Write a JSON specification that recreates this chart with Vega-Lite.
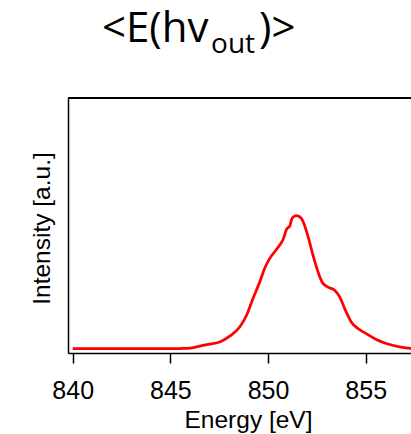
{
  "$schema": "https://vega.github.io/schema/vega-lite/v6.json",
  "autosize": {"type": "none"},
  "padding": {"left": 68, "top": 98, "right": 0, "bottom": 81},
  "width": 343,
  "height": 255,
  "background": "white",
  "config": {"view": {"stroke": null}},
  "title": {
    "text": "<E(hv\u00a0\u00a0\u00a0\u00a0\u2009)>",
    "subtitle": "\u200b\u00a0\u00a0\u00a0\u00a0\u00a0\u00a0\u00a0\u00a0\u00a0\u00a0\u00a0\u00a0\u00a0\u00a0\u00a0out",
    "anchor": "start",
    "frame": "group",
    "dx": 34,
    "offset": 37,
    "font": "Open Sans",
    "fontSize": 42,
    "fontWeight": "normal",
    "color": "black",
    "subtitleFont": "Open Sans",
    "subtitleFontSize": 28,
    "subtitleColor": "black",
    "subtitlePadding": -20
  },
  "data": {
    "values": [
      {"energy": 840, "intensity": 0.017},
      {"energy": 842, "intensity": 0.017},
      {"energy": 844, "intensity": 0.017},
      {"energy": 845, "intensity": 0.017},
      {"energy": 845.5, "intensity": 0.0175},
      {"energy": 846, "intensity": 0.019},
      {"energy": 846.34, "intensity": 0.024},
      {"energy": 846.85, "intensity": 0.033},
      {"energy": 847.53, "intensity": 0.043},
      {"energy": 848.04, "intensity": 0.066},
      {"energy": 848.55, "intensity": 0.102},
      {"energy": 848.9, "intensity": 0.148},
      {"energy": 849.23, "intensity": 0.214},
      {"energy": 849.58, "intensity": 0.279},
      {"energy": 849.83, "intensity": 0.332},
      {"energy": 850.09, "intensity": 0.371},
      {"energy": 850.43, "intensity": 0.406},
      {"energy": 850.77, "intensity": 0.445},
      {"energy": 850.97, "intensity": 0.488},
      {"energy": 851.11, "intensity": 0.497},
      {"energy": 851.2, "intensity": 0.522},
      {"energy": 851.3, "intensity": 0.534},
      {"energy": 851.45, "intensity": 0.539},
      {"energy": 851.66, "intensity": 0.532},
      {"energy": 851.83, "intensity": 0.509},
      {"energy": 852.05, "intensity": 0.456},
      {"energy": 852.3, "intensity": 0.384},
      {"energy": 852.56, "intensity": 0.318},
      {"energy": 852.81, "intensity": 0.273},
      {"energy": 853.12, "intensity": 0.257},
      {"energy": 853.41, "intensity": 0.246},
      {"energy": 853.67, "intensity": 0.22},
      {"energy": 853.92, "intensity": 0.175},
      {"energy": 854.26, "intensity": 0.122},
      {"energy": 854.6, "intensity": 0.096},
      {"energy": 855.03, "intensity": 0.076},
      {"energy": 855.54, "intensity": 0.053},
      {"energy": 856.05, "intensity": 0.037},
      {"energy": 856.73, "intensity": 0.024},
      {"energy": 857.29, "intensity": 0.0185},
      {"energy": 858, "intensity": 0.0175},
      {"energy": 860, "intensity": 0.017}
    ]
  },
  "layer": [
    {
      "mark": {"type": "line", "color": "#ff0000", "strokeWidth": 2.75, "interpolate": "monotone", "clip": true},
      "encoding": {
        "x": {
          "field": "energy", "type": "quantitative",
          "scale": {"domain": [839.76, 857.32], "nice": false, "zero": false},
          "axis": {
            "values": [840, 845, 850, 855],
            "grid": false,
            "domainColor": "black", "domainWidth": 1.5,
            "tickColor": "black", "tickWidth": 1.5, "tickSize": 10,
            "labelFont": "Liberation Sans", "labelFontSize": 25, "labelColor": "black", "labelPadding": 15,
            "labelFlush": false,
            "title": "Energy [eV]",
            "titleFont": "Liberation Sans", "titleFontSize": 24.5, "titleFontWeight": "normal", "titleColor": "black",
            "titleBaseline": "alphabetic", "titleAlign": "center", "titleX": 180, "titleY": 74
          }
        },
        "y": {
          "field": "intensity", "type": "quantitative",
          "scale": {"domain": [0, 1], "nice": false},
          "axis": {
            "grid": false, "ticks": false, "labels": false,
            "domainColor": "black", "domainWidth": 1.5,
            "title": "Intensity [a.u.]",
            "titleFont": "Liberation Sans", "titleFontSize": 24.5, "titleFontWeight": "normal", "titleColor": "black",
            "titleAngle": 270, "titleBaseline": "alphabetic", "titleAlign": "center", "titleX": -19, "titleY": 130
          }
        }
      }
    },
    {
      "mark": {"type": "rule", "color": "black", "strokeWidth": 1.5},
      "encoding": {"y": {"datum": 1}}
    }
  ]
}
